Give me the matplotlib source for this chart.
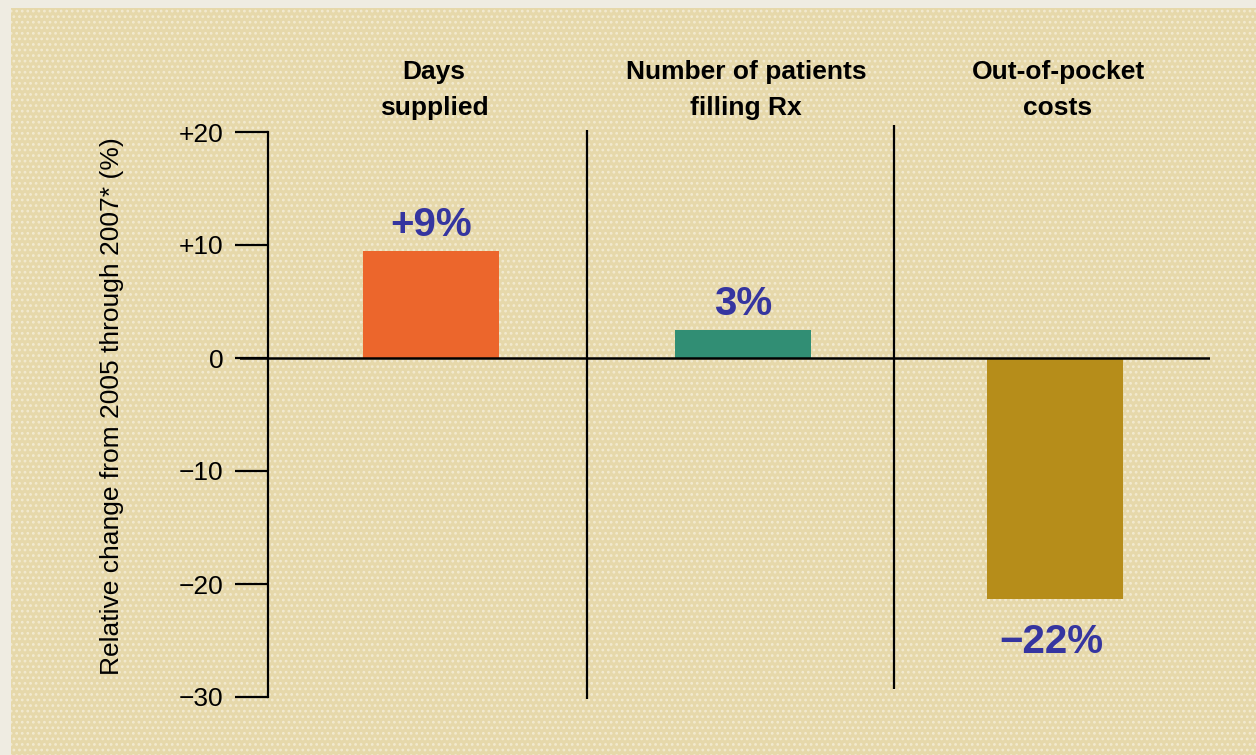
import matplotlib
matplotlib.use('Agg')
from matplotlib import pyplot as plt
from matplotlib.patches import Rectangle

plt.rcParams['font.family'] = ['Liberation Sans Narrow', 'Liberation Sans', 'DejaVu Sans']
plt.rcParams['hatch.linewidth'] = 1.2

# data
categories = ['Days\nsupplied', 'Number of patients\nfilling Rx', 'Out-of-pocket\ncosts']
values = [9.5, 2.5, -21.3]
value_labels = ['+9%', '3%', '\u221222%']
bar_colors = ['#ec662c', '#318e74', '#b68d1a']
yticks = [20, 10, 0, -10, -20, -30]
ytick_labels = ['+20', '+10', '0', '\u221210', '\u221220', '\u221230']

W, H = 1256, 755
fig = plt.figure(figsize=(W / 100, H / 100), dpi=100)
fig.patch.set_facecolor('#efece2')

# textured beige panel
bg = Rectangle((11 / W, 0), 1 - 11 / W, 1 - 8 / H, transform=fig.transFigure,
               facecolor='#e6d8aa', edgecolor='#f2ead0', hatch='...', linewidth=0, zorder=-5)
fig.patches.append(bg)

# axes spans px x 240..1210, y 132..697
ax = fig.add_axes([240 / W, 1 - 697 / H, (1210 - 240) / W, (697 - 132) / H])
ax.set_zorder(2)
ax.patch.set_alpha(0)

x = list(range(len(categories)))
ax.bar(x, values, width=0.436, color=bar_colors, zorder=2)

ax.set_xlim(-0.612, 2.497)
ax.set_ylim(-30, 20)

for s in ['top', 'right', 'bottom']:
    ax.spines[s].set_visible(False)
ax.spines['left'].set_position(('data', -0.522))
ax.spines['left'].set_linewidth(1.6)
ax.spines['left'].set_bounds(-30, 20)
ax.set_xticks([])
ax.set_yticks(yticks)
ax.set_yticklabels(ytick_labels, fontsize=19)
ax.tick_params(axis='y', length=24, width=1.6, pad=8)

ax.axhline(0, color='black', linewidth=1.8, zorder=3)
ax.vlines(0.5, -30.2, 20.2, color='black', linewidth=1.6, zorder=3, clip_on=False)
ax.vlines(1.484, -29.3, 20.6, color='black', linewidth=1.6, zorder=3, clip_on=False)

# category headings
for i, c in enumerate(categories):
    ax.text(i + 0.01, 23.7, c, ha='center', va='center', fontsize=19,
            fontweight='bold', linespacing=1.65, clip_on=False)

# value labels
for i, (v, lab) in enumerate(zip(values, value_labels)):
    if v >= 0:
        ax.text(i, v + 2.3, lab, ha='center', va='center', fontsize=29,
                fontweight='bold', color='#3535a0')
    else:
        ax.text(i - 0.01, v - 3.8, lab, ha='center', va='center', fontsize=29,
                fontweight='bold', color='#3535a0')

fig.text(112 / W, 1 - 406 / H, 'Relative change from 2005 through 2007* (%)',
         rotation=90, ha='center', va='center', fontsize=19)

plt.savefig('out.png', dpi=100, facecolor=fig.get_facecolor())
